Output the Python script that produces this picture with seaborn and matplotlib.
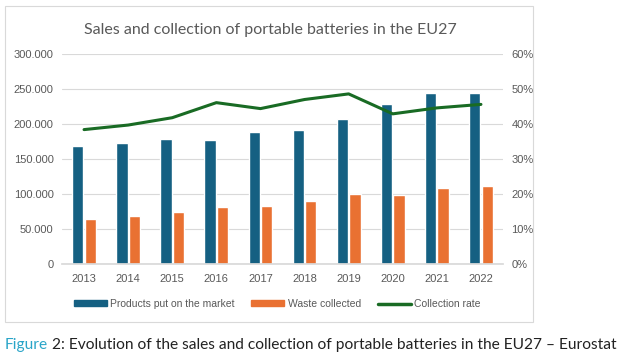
import numpy as np
import pandas as pd
import matplotlib
matplotlib.use("Agg")
import matplotlib.pyplot as plt
import seaborn as sns
from matplotlib.patches import Patch, Rectangle
from matplotlib.lines import Line2D
from matplotlib.ticker import FuncFormatter

years = ["2013", "2014", "2015", "2016", "2017", "2018", "2019", "2020", "2021", "2022"]
products_market = [169000, 173000, 178000, 177000, 189000, 191000, 207000, 229000, 245000, 245000]
waste_collected = [64000, 68000, 74000, 81000, 83000, 90000, 100000, 99000, 109000, 111000]
collection_rate = [0.384, 0.397, 0.418, 0.461, 0.444, 0.470, 0.486, 0.429, 0.446, 0.456]

series_names = ["Products put on the market", "Waste collected", "Collection rate"]
left_ticks = [0, 50000, 100000, 150000, 200000, 250000, 300000]
right_ticks = [0, 0.1, 0.2, 0.3, 0.4, 0.5, 0.6]

title = "Sales and collection of portable batteries in the EU27"
caption_a = "Figure"
caption_b = " 2: Evolution of the sales and collection of portable batteries in the EU27 \u2013 Eurostat"

BLUE = "#156082"
ORANGE = "#E97132"
GREEN = "#196B24"
GRID = "#D9D9D9"
TXT = "#595959"

sns.set_theme(style="white")
plt.rcParams["font.family"] = ["Liberation Sans", "DejaVu Sans"]

df = pd.DataFrame({
    "year": years * 2,
    "value": products_market + waste_collected,
    "series": [series_names[0]] * len(years) + [series_names[1]] * len(years),
})

fig = plt.figure(figsize=(6.31, 3.62), dpi=100)
W, H = 631, 362
ax = fig.add_axes([62 / W, 1 - 264 / H, (503 - 62) / W, (264 - 54) / H])

sns.barplot(data=df, x="year", y="value", hue="series", order=years,
            hue_order=series_names[:2], palette=[BLUE, ORANGE],
            width=0.57, gap=0.1, ax=ax, legend=False, saturation=1)

ax.set_ylim(0, 300000)
ax.set_yticks(left_ticks)
ax.yaxis.set_major_formatter(FuncFormatter(lambda v, p: f"{int(v):,}".replace(",", ".")))
ax.grid(axis="y", color=GRID, linewidth=0.8)
ax.set_axisbelow(True)
for s in ["left", "right", "top"]:
    ax.spines[s].set_visible(False)
ax.spines["bottom"].set_color(GRID)
ax.tick_params(axis="both", length=0, colors=TXT, labelsize=8)
ax.tick_params(axis="y", pad=6)
ax.tick_params(axis="x", pad=7)
ax.set_xlabel("")
ax.set_ylabel("")
ax.set_xlim(-0.5, len(years) - 0.5)

ax2 = ax.twinx()
sns.lineplot(x=np.arange(len(years)), y=collection_rate, color=GREEN,
             linewidth=2.2, ax=ax2, legend=False)
ax2.set_ylim(0, 0.6)
ax2.set_yticks(right_ticks)
ax2.yaxis.set_major_formatter(FuncFormatter(lambda v, p: f"{v*100:.0f}%"))
for s in ["left", "right", "top", "bottom"]:
    ax2.spines[s].set_visible(False)
ax2.tick_params(axis="y", length=0, colors=TXT, labelsize=8, pad=6)
ax2.grid(False)
ax2.set_ylabel("")

# chart frame
fig.patches.append(Rectangle((5 / W, 1 - 322 / H), (533 - 5) / W, (322 - 6) / H,
                             transform=fig.transFigure, fill=False,
                             edgecolor=GRID, linewidth=0.8))

fig.text(270 / W, 1 - 30 / H, title, ha="center", va="center",
         fontsize=11.5, color=TXT, family=["Lato", "DejaVu Sans"])

handles = [Patch(facecolor=BLUE, edgecolor=BLUE),
           Patch(facecolor=ORANGE, edgecolor=ORANGE),
           Line2D([0], [0], color=GREEN, linewidth=2.5)]
fig.legend(handles, series_names, loc="center", bbox_to_anchor=(277 / W, 1 - 304 / H),
           ncol=3, frameon=False, fontsize=7.5, handlelength=3.2, handleheight=0.45,
           handletextpad=0.3, columnspacing=1.6, labelcolor=TXT)

t1 = fig.text(5 / W, 1 - 345 / H, caption_a, ha="left", va="center",
              fontsize=11.2, color="#2AA5C8", family=["Lato", "DejaVu Sans"])
fig.canvas.draw()
bb = t1.get_window_extent()
fig.text(bb.x1 / W, 1 - 345 / H, caption_b, ha="left", va="center",
         fontsize=11.2, color="#222222", family=["Lato", "DejaVu Sans"])

fig.savefig("out.png", dpi=100)
